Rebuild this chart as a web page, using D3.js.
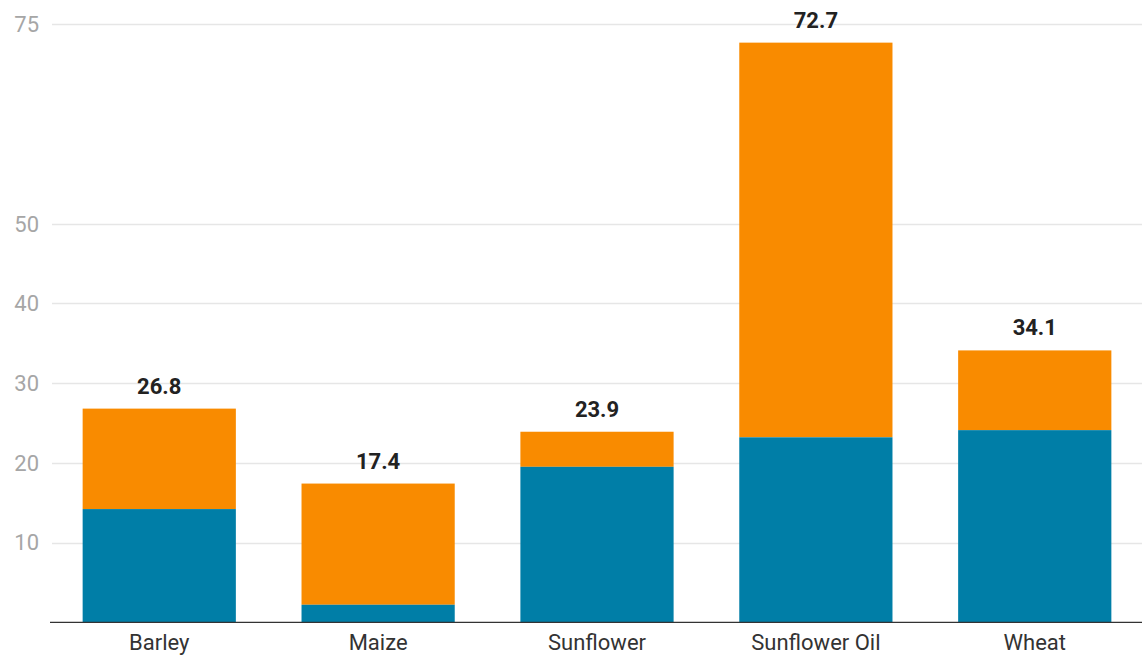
<!DOCTYPE html>
<html lang="en">
<head>
<meta charset="utf-8">
<title>Stacked bars</title>
<style>
  body { margin: 0; background: #fff; }
  svg text { font-family: Roboto, "Noto Sans", sans-serif; }
</style>
</head>
<body>
<svg width="1142" height="657"></svg>
<script src="https://d3js.org/d3.v7.min.js"></script>
<script>

    // chart data
    var categories = ["Barley", "Maize", "Sunflower", "Sunflower Oil", "Wheat"];
    var lowerValues = [14.2, 2.2, 19.5, 23.2, 24.1];
    var totals = [26.8, 17.4, 23.9, 72.7, 34.1];
    var tickValues = [10, 20, 30, 40, 50, 75];

    var svg = d3.select("svg"),
        width = +svg.attr("width"),
        height = +svg.attr("height");

    var plotLeft = 52, plotRight = width, plotTop = 24.3, plotBottom = 622.3;

    var x = d3.scaleBand()
        .domain(categories)
        .range([plotLeft, plotRight])
        .paddingInner(0.3)
        .paddingOuter(0.14);

    var y = d3.scaleLinear()
        .domain([0, 75])
        .range([plotBottom, plotTop]);

    var rows = categories.map(function(c, i) {
        return { name: c, lower: lowerValues[i], total: totals[i] };
    });

    // grid lines
    svg.append("g")
        .selectAll("line")
        .data(tickValues)
        .join("line")
        .attr("x1", plotLeft)
        .attr("x2", plotRight)
        .attr("y1", function(d) { return Math.round(y(d)) + 0.5; })
        .attr("y2", function(d) { return Math.round(y(d)) + 0.5; })
        .attr("stroke", "#e6e6e6")
        .attr("stroke-width", 1.5);

    // y labels
    svg.append("g")
        .selectAll("text")
        .data(tickValues)
        .join("text")
        .attr("x", 39)
        .attr("y", function(d) { return y(d); })
        .attr("dy", "0.36em")
        .attr("text-anchor", "end")
        .attr("font-size", 22)
        .attr("fill", "#a6a6a6")
        .text(function(d) { return d; });

    // orange (upper) segments
    svg.append("g")
        .selectAll("rect")
        .data(rows)
        .join("rect")
        .attr("x", function(d) { return x(d.name); })
        .attr("width", x.bandwidth())
        .attr("y", function(d) { return y(d.total); })
        .attr("height", function(d) { return y(d.lower) - y(d.total); })
        .attr("fill", "#f98b00");

    // blue (lower) segments
    svg.append("g")
        .selectAll("rect")
        .data(rows)
        .join("rect")
        .attr("x", function(d) { return x(d.name); })
        .attr("width", x.bandwidth())
        .attr("y", function(d) { return y(d.lower); })
        .attr("height", function(d) { return y(0) - y(d.lower); })
        .attr("fill", "#007ea7");

    // totals on top
    svg.append("g")
        .selectAll("text")
        .data(rows)
        .join("text")
        .attr("x", function(d) { return x(d.name) + x.bandwidth() / 2; })
        .attr("y", function(d) { return y(d.total) - 15; })
        .attr("text-anchor", "middle")
        .attr("font-size", 22)
        .attr("font-weight", "bold")
        .attr("fill", "#222")
        .text(function(d) { return d.total.toFixed(1); });

    // x axis
    var xAxis = svg.append("g")
        .attr("transform", "translate(0," + plotBottom + ")")
        .call(d3.axisBottom(x).tickSize(0).tickPadding(12));
    xAxis.select(".domain")
        .attr("stroke", "#333")
        .attr("stroke-width", 1.3)
        .attr("d", "M50,0H" + width);
    xAxis.selectAll("text")
        .attr("font-size", 22)
        .attr("font-family", "Roboto, sans-serif")
        .attr("fill", "#333");

</script>
</body>
</html>
